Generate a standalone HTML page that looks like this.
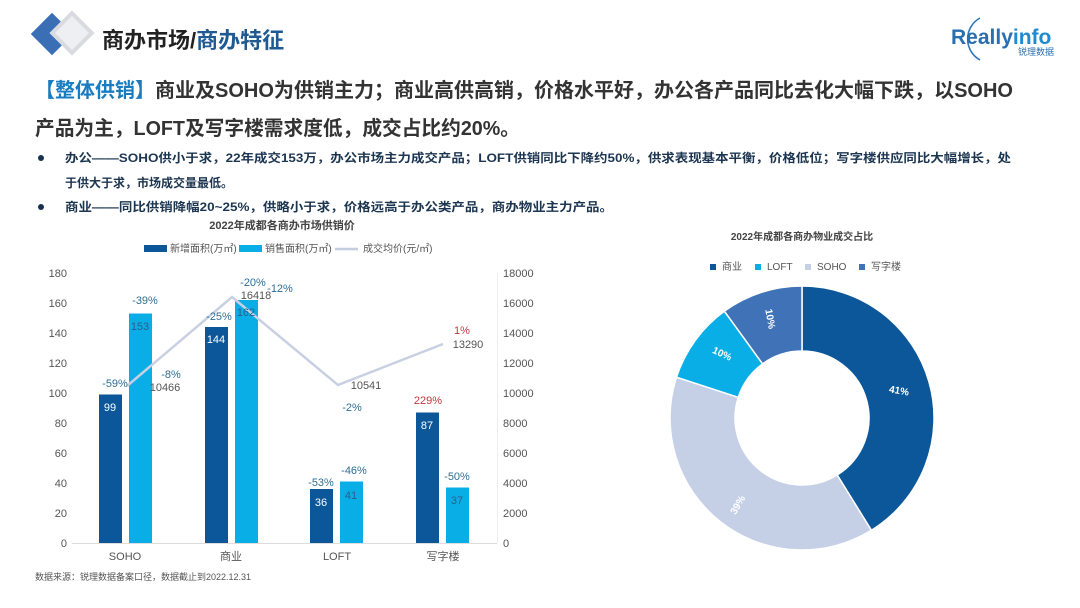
<!DOCTYPE html>
<html><head><meta charset="utf-8"><style>
html,body{margin:0;padding:0;background:#fff;}
svg{display:block;font-family:"Liberation Sans","Noto Sans CJK SC",sans-serif;}
</style></head><body>
<svg width="1080" height="608" viewBox="0 0 1080 608" xmlns="http://www.w3.org/2000/svg">
<rect width="1080" height="608" fill="#fff"/>
<g>
<rect x="37" y="19" width="30" height="30" transform="rotate(45 52 34)" fill="#3a6fb5"/>
<rect x="56" y="17" width="32" height="32" transform="rotate(45 72 33)" fill="#d9dbe0"/>
<rect x="60" y="21" width="24" height="24" transform="rotate(45 72 33)" fill="#eeeff2"/>
</g>
<text x="102" y="48" font-size="22" font-weight="bold" fill="#222">商办市场/<tspan fill="#1f5a92">商办特征</tspan></text>
<path d="M980 18 A24 24 0 0 0 980 60" fill="none" stroke="#2a73b8" stroke-width="1.5"/>
<text x="951" y="44" font-size="21" font-weight="bold" fill="#2a6fae">Really<tspan fill="#1f8ad0">info</tspan></text>
<text x="1018" y="55" font-size="9" fill="#2a6fae">锐理数据</text>
<text x="35" y="97" font-size="20" font-weight="bold" fill="#333" textLength="978" lengthAdjust="spacingAndGlyphs"><tspan fill="#1a7cc0">【整体供销】</tspan>商业及SOHO为供销主力；商业高供高销，价格水平好，办公各产品同比去化大幅下跌，以SOHO</text>
<text x="35" y="135" font-size="20" font-weight="bold" fill="#333" textLength="485" lengthAdjust="spacingAndGlyphs">产品为主，LOFT及写字楼需求度低，成交占比约20%。</text>
<circle cx="41" cy="158" r="3" fill="#17314f"/>
<circle cx="41" cy="207" r="3" fill="#17314f"/>
<text x="65" y="162" font-size="12" font-weight="bold" fill="#1c3550" textLength="946" lengthAdjust="spacingAndGlyphs">办公——SOHO供小于求，22年成交153万，办公市场主力成交产品；LOFT供销同比下降约50%，供求表现基本平衡，价格低位；写字楼供应同比大幅增长，处</text>
<text x="65" y="187" font-size="12" font-weight="bold" fill="#1c3550">于供大于求，市场成交量最低。</text>
<text x="65" y="211" font-size="12" font-weight="bold" fill="#1c3550" textLength="548" lengthAdjust="spacingAndGlyphs">商业——同比供销降幅20~25%，供略小于求，价格远高于办公类产品，商办物业主力产品。</text>
<text x="282" y="229" font-size="11" font-weight="bold" fill="#444" text-anchor="middle">2022年成都各商办市场供销价</text>
<rect x="144" y="245" width="23" height="7" fill="#0b5799"/>
<text x="170" y="252" font-size="10" fill="#555">新增面积(万㎡)</text>
<rect x="239" y="245" width="23" height="7" fill="#0aaee6"/>
<text x="265" y="252" font-size="10" fill="#555">销售面积(万㎡)</text>
<line x1="335" y1="249" x2="358" y2="249" stroke="#c5cde0" stroke-width="2.5"/>
<text x="363" y="252" font-size="10" fill="#555">成交均价(元/㎡)</text>
<g font-size="11" fill="#555" text-anchor="end">
<text x="67" y="547">0</text><text x="67" y="517">20</text><text x="67" y="487">40</text><text x="67" y="457">60</text><text x="67" y="427">80</text><text x="67" y="397">100</text><text x="67" y="367">120</text><text x="67" y="337">140</text><text x="67" y="307">160</text><text x="67" y="277">180</text>
</g>
<g font-size="11" fill="#555">
<text x="503" y="547">0</text><text x="503" y="517">2000</text><text x="503" y="487">4000</text><text x="503" y="457">6000</text><text x="503" y="427">8000</text><text x="503" y="397">10000</text><text x="503" y="367">12000</text><text x="503" y="337">14000</text><text x="503" y="307">16000</text><text x="503" y="277">18000</text>
</g>
<line x1="72" y1="543.5" x2="497" y2="543.5" stroke="#ddd"/>
<line x1="497.5" y1="273" x2="497.5" y2="543" stroke="#eee"/>
<g fill="#0b5799">
<rect x="99" y="394.5" width="23" height="148.5"/>
<rect x="205" y="327" width="23" height="216"/>
<rect x="310" y="489" width="23" height="54"/>
<rect x="416" y="412.5" width="23" height="130.5"/>
</g>
<g fill="#0aaee6">
<rect x="129" y="313.5" width="23" height="229.5"/>
<rect x="235" y="300" width="23" height="243"/>
<rect x="340" y="481.5" width="23" height="61.5"/>
<rect x="446" y="487.5" width="23" height="55.5"/>
</g>
<polyline points="127,386 232,297 338,385 443,344" fill="none" stroke="#c8d0e2" stroke-width="2.5"/>
<g font-size="11" text-anchor="middle">
<text x="110" y="411" fill="#fff">99</text>
<text x="140" y="330" fill="#2a5f8a">153</text>
<text x="216" y="343" fill="#fff">144</text>
<text x="246" y="316" fill="#2a5f8a">162</text>
<text x="321" y="506" fill="#fff">36</text>
<text x="351" y="499" fill="#2a5f8a">41</text>
<text x="427" y="429" fill="#fff">87</text>
<text x="457" y="504" fill="#2a5f8a">37</text>
<g fill="#2d6e96">
<text x="115" y="387">-59%</text>
<text x="145" y="304">-39%</text>
<text x="171" y="378">-8%</text>
<text x="219" y="320">-25%</text>
<text x="253" y="286">-20%</text>
<text x="280" y="292">-12%</text>
<text x="352" y="411">-2%</text>
<text x="321" y="486">-53%</text>
<text x="354" y="474">-46%</text>
<text x="457" y="480">-50%</text>
</g>
<text x="428" y="404" fill="#c0393b">229%</text>
<text x="462" y="334" fill="#c0393b">1%</text>
<g fill="#555">
<text x="165" y="391">10466</text>
<text x="256" y="299">16418</text>
<text x="366" y="389">10541</text>
<text x="468" y="348">13290</text>
</g>
<text x="125" y="560" fill="#555">SOHO</text>
<text x="231" y="560" fill="#555">商业</text>
<text x="337" y="560" fill="#555">LOFT</text>
<text x="443" y="560" fill="#555">写字楼</text>
</g>
<text x="35" y="580" font-size="9" fill="#555">数据来源：锐理数据备案口径，数据截止到2022.12.31</text>
<text x="802" y="240" font-size="10" font-weight="bold" fill="#444" text-anchor="middle">2022年成都各商办物业成交占比</text>
<g font-size="10" fill="#555">
<rect x="710" y="264" width="6" height="6" fill="#0b5799"/><text x="722" y="270">商业</text>
<rect x="755" y="264" width="6" height="6" fill="#0aaee6"/><text x="767" y="270">LOFT</text>
<rect x="805" y="264" width="6" height="6" fill="#c5cfe6"/><text x="817" y="270">SOHO</text>
<rect x="859" y="264" width="6" height="6" fill="#3f72b6"/><text x="871" y="270">写字楼</text>
</g>
<g stroke="#fff" stroke-width="1.5">
<path d="M802,286 A132,132 0 0 1 871.4,530.3 L837.2,475 A67,67 0 0 0 802,351 Z" fill="#0b5799"/>
<path d="M871.4,530.3 A132,132 0 0 1 676.5,377.2 L738.3,397.3 A67,67 0 0 0 837.2,475 Z" fill="#c5cfe6"/>
<path d="M676.5,377.2 A132,132 0 0 1 724.4,311.2 L762.6,363.8 A67,67 0 0 0 738.3,397.3 Z" fill="#0aaee6"/>
<path d="M724.4,311.2 A132,132 0 0 1 802,286 L802,351 A67,67 0 0 0 762.6,363.8 Z" fill="#3f72b6"/>
</g>
<g font-size="10" font-weight="bold" fill="#fff" text-anchor="middle">
<text x="899" y="394" transform="rotate(10 899 391)">41%</text>
<text x="738" y="508" transform="rotate(-60 738 505)">39%</text>
<text x="722" y="357" transform="rotate(25 722 354)">10%</text>
<text x="770" y="322" transform="rotate(80 770 319)">10%</text>
</g>
</svg>
</body></html>
